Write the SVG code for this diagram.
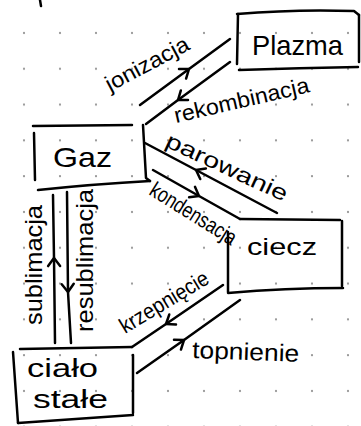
<svg xmlns="http://www.w3.org/2000/svg" width="361" height="426" viewBox="0 0 361 426">
  <defs>
    <pattern id="dots" patternUnits="userSpaceOnUse" x="6" y="15" width="36" height="35.8">
      <circle cx="18" cy="18" r="1.1" fill="#8a8a8a"/>
    </pattern>
    <marker id="chev" markerUnits="userSpaceOnUse" markerWidth="24" markerHeight="24" viewBox="-12 -12 24 24" refX="0" refY="0" orient="auto">
      <path d="M-8,-6 L0,0 L-8,6" fill="none" stroke="#000" stroke-width="2.5" stroke-linecap="round" stroke-linejoin="round"/>
    </marker>
  </defs>
  <style>
    .ink { fill: none; stroke: #000; stroke-width: 2.5; stroke-linecap: round; stroke-linejoin: round; }
    .arrow { marker-mid: url(#chev); }
    text { font-family: "Liberation Sans", Arial, sans-serif; fill: #000; }
    .node { font-size: 28px; }
    .lbl { font-size: 22px; }
  </style>

  <rect width="361" height="426" fill="#fff"/>
  <rect width="361" height="426" fill="url(#dots)"/>

  <!-- stray pen mark at the top -->
  <path class="ink" d="M40,0 L41,6"/>

  <g id="plazma">
    <path class="ink" d="M237,14 Q295,9 354,11 L359,15"/>
    <path class="ink" d="M238,14 L237,64"/>
    <path class="ink" d="M239,70 Q300,68 358,67"/>
    <path class="ink" d="M359,15 L359,62"/>
    <text class="node" x="252" y="55" textLength="91" lengthAdjust="spacingAndGlyphs">Plazma</text>
  </g>

  <g id="gaz">
    <path class="ink" d="M33,126 L132,125"/>
    <path class="ink" d="M34,133 L35,180"/>
    <path class="ink" d="M38,190 Q95,184 150,181"/>
    <path class="ink" d="M143,125 L146,178 L150,181"/>
    <text class="node" x="53" y="167" textLength="59" lengthAdjust="spacingAndGlyphs">Gaz</text>
  </g>

  <g id="ciecz">
    <path class="ink" d="M240,219 L340,220"/>
    <path class="ink" d="M228,232 L228,292"/>
    <path class="ink" d="M228,293 Q285,288 343,288"/>
    <path class="ink" d="M342,221 L342,286"/>
    <text x="247" y="255" font-size="24" textLength="70" lengthAdjust="spacingAndGlyphs">ciecz</text>
  </g>

  <g id="cialo-stale">
    <path class="ink" d="M20,349 L132,347"/>
    <path class="ink" d="M13,352 L18,423"/>
    <path class="ink" d="M18,423 L133,415"/>
    <path class="ink" d="M133,355 L133,413"/>
    <text x="27" y="377" font-size="25" textLength="71" lengthAdjust="spacingAndGlyphs">ciało</text>
    <text x="33" y="408" font-size="25" textLength="75" lengthAdjust="spacingAndGlyphs">stałe</text>
  </g>

  <g id="connectors">
    <!-- gaz -> plazma -->
    <path class="ink arrow" d="M140,105 L189,69 L230,39"/>
    <text class="lbl" transform="translate(110,92) rotate(-28)" textLength="92" lengthAdjust="spacingAndGlyphs">jonizacja</text>
    <!-- plazma -> gaz -->
    <path class="ink arrow" d="M230,62 L178,100 L146,124"/>
    <text class="lbl" transform="translate(176,123) rotate(-13)" textLength="138" lengthAdjust="spacingAndGlyphs">rekombinacja</text>
    <!-- ciecz -> gaz -->
    <path class="ink arrow" d="M277,213 L196,170 L145,143"/>
    <text class="lbl" transform="translate(164,146) rotate(25)" textLength="132" lengthAdjust="spacingAndGlyphs">parowanie</text>
    <!-- gaz -> ciecz -->
    <path class="ink arrow" d="M153,170 L199,196 L240,219"/>
    <text transform="translate(148,194) rotate(32)" font-size="22" textLength="98" lengthAdjust="spacingAndGlyphs">kondensacja</text>
    <!-- cialo stale -> gaz -->
    <path class="ink arrow" d="M55,343 L54,258 L53,195"/>
    <text transform="translate(42,325) rotate(-90)" font-size="24" textLength="120" lengthAdjust="spacingAndGlyphs">sublimacja</text>
    <!-- gaz -> cialo stale -->
    <path class="ink arrow" d="M67,192 L68,292 L71,343"/>
    <text transform="translate(93,332) rotate(-90)" font-size="24" textLength="143" lengthAdjust="spacingAndGlyphs">resublimacja</text>
    <!-- ciecz -> cialo stale -->
    <path class="ink arrow" d="M223,285 L166,324 L132,347"/>
    <text class="lbl" transform="translate(125,334) rotate(-31)" textLength="100" lengthAdjust="spacingAndGlyphs">krzepnięcie</text>
    <!-- cialo stale -> ciecz -->
    <path class="ink arrow" d="M137,373 L184,340 L240,300"/>
    <text transform="translate(192,358) rotate(2)" font-size="24" textLength="107" lengthAdjust="spacingAndGlyphs">topnienie</text>
  </g>
</svg>
